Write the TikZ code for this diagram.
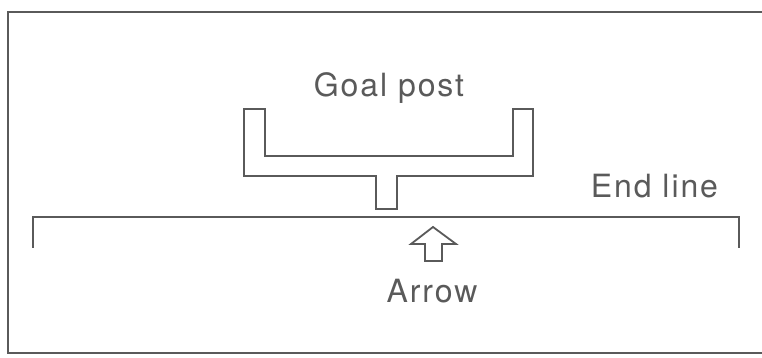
\documentclass[tikz,border=0pt]{standalone}
\usepackage{fontspec}
\newfontfamily\labelfont[LetterSpace=6]{TeX Gyre Heros}
\definecolor{ink}{HTML}{5A5A5A}

\begin{document}
\begin{tikzpicture}[x=0.5pt, y=-0.5pt, line width=0.9pt, color=ink,
    lbl/.style={inner sep=0pt, anchor=base, font=\labelfont\fontsize{16}{19}\selectfont}]
    \useasboundingbox (0,0) rectangle (762,358);

    % frame
    \draw (762,12) -- (8,12) -- (8,353) -- (762,353);

    % end line
    \coordinate (L) at (33,217);
    \coordinate (R) at (739,217);
    \draw (33,248) -- (L) -- (R) -- (739,248);

    % goal post
    \coordinate (P) at (386,209);
    \draw (244,109) -- (265,109) -- (265,156) -- (513,156) -- (513,109)
        -- (533,109) -- (533,176) -- (397,176) -- (397,209) -- (376,209)
        -- (376,176) -- (244,176) -- cycle;

    % arrow
    \coordinate (T) at (433,227);
    \draw (T) -- (456,244) -- (442,244) -- (442,261) -- (425,261)
        -- (425,244) -- (411,244) -- cycle;

    \node[lbl] (goal) at (389,97) {Goal post};
    \node[lbl, anchor=base west] (end) at (590,198) {End line};
    \node[lbl] (arrow) at (432,303) {Arrow};
\end{tikzpicture}
\end{document}
